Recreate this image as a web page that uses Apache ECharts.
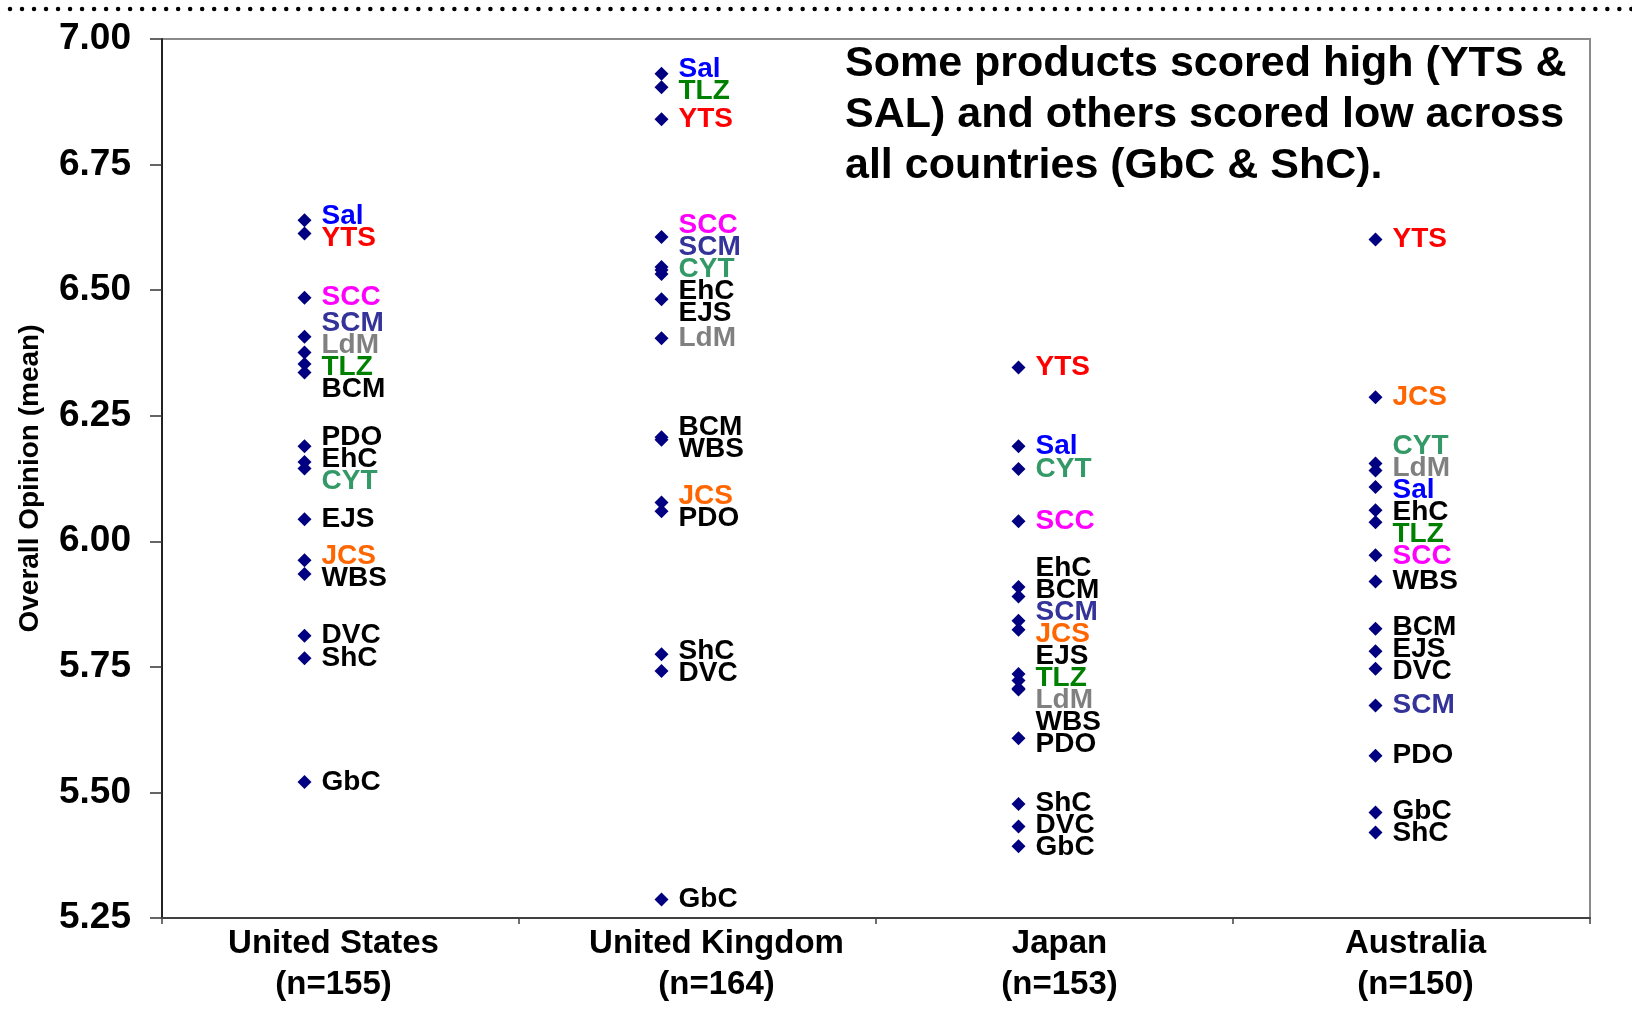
<!DOCTYPE html>
<html>
<head>
<meta charset="utf-8">
<title>Overall Opinion by Country</title>
<script src="https://cdn.jsdelivr.net/npm/echarts@6/dist/echarts.min.js"></script>
<style>
  html, body { margin: 0; padding: 0; background: #ffffff; }
  #chart { width: 1632px; height: 1009px; }
</style>
</head>
<body>
<div id="chart"></div>
<script>
// Countries (x categories) and the products rated in each
const countries = ['United States\n(n=155)', 'United Kingdom\n(n=164)', 'Japan\n(n=153)', 'Australia\n(n=150)'];
const products = ['Sal', 'YTS', 'SCC', 'SCM', 'LdM', 'TLZ', 'BCM', 'PDO', 'EhC', 'CYT', 'EJS', 'JCS', 'WBS', 'DVC', 'ShC', 'GbC'];

// Mean overall opinion per product, in the order of `products`
const usValues        = [6.639, 6.613, 6.485, 6.407, 6.376, 6.353, 6.336, 6.189, 6.158, 6.145, 6.044, 5.962, 5.935, 5.812, 5.767, 5.521];
const ukValues        = [6.931, 6.840, 6.606, 6.546, 6.404, 6.904, 6.207, 6.060, 6.532, 6.540, 6.482, 6.077, 6.202, 5.742, 5.775, 5.287];
const japanValues     = [6.189, 6.346, 6.040, 5.842, 5.707, 5.723, 5.890, 5.608, 5.909, 6.144, 5.736, 5.824, 5.705, 5.432, 5.477, 5.393];
const australiaValues = [6.108, 6.601, 5.972, 5.673, 6.141, 6.038, 5.826, 5.573, 6.062, 6.155, 5.781, 6.287, 5.920, 5.746, 5.420, 5.460];
const countryValues = [usValues, ukValues, japanValues, australiaValues];

// Y axis range and tick step
const yMin = 5.25, yMax = 7.00, yStep = 0.25;

// Label colour for each product name
const productColors = {
  Sal: '#0000FF', YTS: '#FF0000', SCC: '#FF00FF', SCM: '#333399',
  LdM: '#808080', TLZ: '#008000', CYT: '#339966', JCS: '#FF6600'
};

const FONT = '"Liberation Sans", Arial, Helvetica, sans-serif';
const LABEL_GAP = 22;   // min vertical distance between stacked labels (px)

// horizontal nudge of each country caption (px, + = right)
const captionShift = [-7, 19, 5, 4];

const chart = echarts.init(document.getElementById('chart'), null, { renderer: 'canvas' });

function buildData(offsets) {
  const data = [];
  countryValues.forEach((vals, c) => {
    vals.forEach((v, p) => {
      const name = products[p];
      data.push({
        name: name,
        value: [c, v],
        label: {
          color: productColors[name] || '#000000',
          offset: [0, offsets ? offsets[c][p] : 0]
        }
      });
    });
  });
  return data;
}

const captionRich = {};
captionShift.forEach((s, i) => {
  captionRich['c' + i] = {
    color: '#000000', fontFamily: FONT, fontWeight: 'bold', fontSize: 33, lineHeight: 41,
    padding: s >= 0 ? [0, 0, 0, 2 * s] : [0, -2 * s, 0, 0]
  };
});

const option = {
  animation: false,
  backgroundColor: '#ffffff',
  textStyle: { fontFamily: FONT },
  grid: {
    left: 162, right: 42, top: 39, bottom: 91,
    show: true, borderColor: '#8a8a8a', borderWidth: 2, backgroundColor: 'transparent'
  },
  xAxis: {
    type: 'category',
    data: countries,
    boundaryGap: true,
    axisLine: { show: true, lineStyle: { color: '#404040', width: 2 } },
    axisTick: { show: true, length: 6, lineStyle: { color: '#404040', width: 1.5 } },
    axisLabel: {
      color: '#000000', fontFamily: FONT, fontWeight: 'bold', fontSize: 33,
      lineHeight: 41, margin: 5, interval: 0,
      formatter: (val, idx) => val.split('\n').map(line => '{c' + idx + '|' + line + '}').join('\n'),
      rich: captionRich
    },
    splitLine: { show: false }
  },
  yAxis: {
    type: 'value',
    min: yMin, max: yMax, interval: yStep,
    name: 'Overall Opinion (mean)',
    nameLocation: 'middle',
    nameGap: 118,
    nameTextStyle: { color: '#000000', fontFamily: FONT, fontWeight: 'bold', fontSize: 28 },
    axisLine: { show: true, lineStyle: { color: '#222222', width: 2 } },
    axisTick: { show: true, length: 12, lineStyle: { color: '#333333', width: 1.5 } },
    axisLabel: {
      color: '#000000', fontFamily: FONT, fontWeight: 'bold', fontSize: 37, margin: 31,
      formatter: v => v.toFixed(2)
    },
    splitLine: { show: false }
  },
  graphic: [
    {
      // dotted rule across the top of the slide
      type: 'line',
      shape: { x1: 10, y1: 9, x2: 1632, y2: 9 },
      style: { stroke: '#000000', lineWidth: 4.5, lineCap: 'round', lineDash: [0.01, 12] },
      silent: true
    },
    {
      type: 'text',
      left: 845, top: 39,
      style: {
        text: 'Some products scored high (YTS &\nSAL) and others scored low across\nall countries (GbC & ShC).',
        fontFamily: FONT, fontWeight: 'bold', fontSize: 43, lineHeight: 51,
        fill: '#000000'
      },
      silent: true
    }
  ],
  series: [{
    type: 'scatter',
    symbol: 'diamond',
    symbolSize: 14,
    symbolOffset: [-36, 0],
    itemStyle: { color: '#000080', opacity: 1 },
    label: {
      show: true,
      position: 'right',
      distance: 10,
      formatter: '{b}',
      fontFamily: FONT, fontWeight: 'bold', fontSize: 28
    },
    emphasis: { disabled: true },
    data: buildData(null)
  }]
};

chart.setOption(option);

// Stack the labels of each country so they don't overlap: order by
// position, keep a minimum gap, and pull each group around its points
// (pool-adjacent-violators on the gap-shifted positions).
function spread(ys, gap) {
  const blocks = [];
  ys.forEach((y, i) => {
    blocks.push({ sum: y - i * gap, n: 1 });
    while (blocks.length > 1) {
      const b = blocks[blocks.length - 1], a = blocks[blocks.length - 2];
      if (a.sum / a.n > b.sum / b.n) { a.sum += b.sum; a.n += b.n; blocks.pop(); }
      else break;
    }
  });
  const out = [];
  blocks.forEach(b => { for (let k = 0; k < b.n; k++) out.push(b.sum / b.n); });
  return out.map((r, i) => r + i * gap);
}

const offsets = countryValues.map(vals => {
  const px = vals.map(v => chart.convertToPixel({ yAxisIndex: 0 }, v));
  const order = px.map((y, i) => i).sort((a, b) => px[a] - px[b]);
  const placed = spread(order.map(i => px[i]), LABEL_GAP);
  const off = new Array(vals.length).fill(0);
  order.forEach((idx, k) => { off[idx] = placed[k] - px[idx]; });
  return off;
});

chart.setOption({ series: [{ data: buildData(offsets) }] });
</script>
</body>
</html>
